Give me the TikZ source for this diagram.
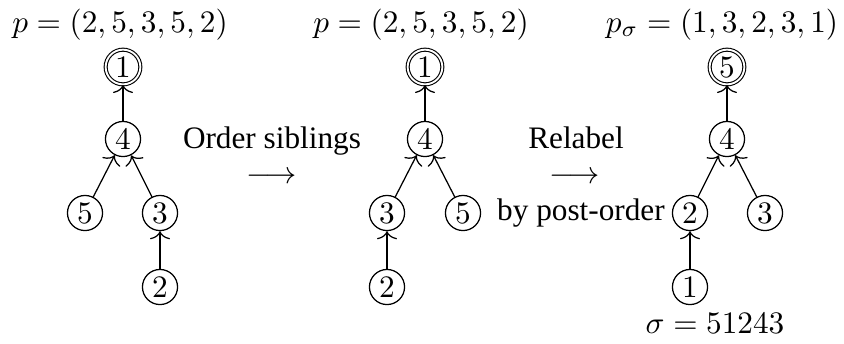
\documentclass[tikz,border=0pt]{standalone}
\usepackage{fontspec}
\newfontfamily\tnr{Liberation Serif}
\usetikzlibrary{arrows.meta}
\begin{document}
\begin{tikzpicture}[x=0.01124cm,y=-0.01124cm,
  vtx/.style={circle,draw,line width=0.4pt,inner sep=1.1pt},
  rootv/.style={circle,draw,double,double distance=0.6pt,line width=0.35pt,inner sep=1.05pt},
  arr/.style={line width=0.4pt,-{To[length=2.6pt,width=6.4pt]}},
  lbl/.style={inner sep=0pt,anchor=base},
  txt/.style={inner sep=0pt,anchor=base,font=\tnr}]
\useasboundingbox (0,0) rectangle (844,343);
% left tree
\node[lbl] (pl) at (120,32) {$p=(2,5,3,5,2)$};
\node[rootv] (a1) at (123,67) {$1$};
\node[vtx] (a4) at (123,139) {$4$};
\node[vtx] (a5) at (85,213) {$5$};
\node[vtx] (a3) at (160,213) {$3$};
\node[vtx] (a2) at (160,287) {$2$};
\draw[arr] (a4) -- (a1);
\draw[arr] (a5) -- (a4);
\draw[arr] (a3) -- (a4);
\draw[arr] (a2) -- (a3);
% transition 1
\node[txt] (t1) at (272,148) {Order siblings};
\node[lbl] (r1) at (272,183) {$\longrightarrow$};
% middle tree
\node[lbl] (pm) at (421,32) {$p=(2,5,3,5,2)$};
\node[rootv] (b1) at (425,67) {$1$};
\node[vtx] (b4) at (425,139) {$4$};
\node[vtx] (b3) at (387,213) {$3$};
\node[vtx] (b5) at (463,213) {$5$};
\node[vtx] (b2) at (387,287) {$2$};
\draw[arr] (b4) -- (b1);
\draw[arr] (b3) -- (b4);
\draw[arr] (b5) -- (b4);
\draw[arr] (b2) -- (b3);
% transition 2
\node[txt] (t2) at (576,148) {Relabel};
\node[lbl] (r2) at (575,183) {$\longrightarrow$};
\node[txt] (t3) at (581,220) {by post-order};
% right tree
\node[lbl] (pr) at (722,32) {$p_\sigma=(1,3,2,3,1)$};
\node[rootv] (c5) at (727,67) {$5$};
\node[vtx] (c4) at (727,139) {$4$};
\node[vtx] (c2) at (690,213) {$2$};
\node[vtx] (c3) at (765,213) {$3$};
\node[vtx] (c1) at (690,287) {$1$};
\draw[arr] (c4) -- (c5);
\draw[arr] (c2) -- (c4);
\draw[arr] (c3) -- (c4);
\draw[arr] (c1) -- (c2);
\node[lbl] (sg) at (715,333) {$\sigma=51243$};
\end{tikzpicture}
\end{document}
